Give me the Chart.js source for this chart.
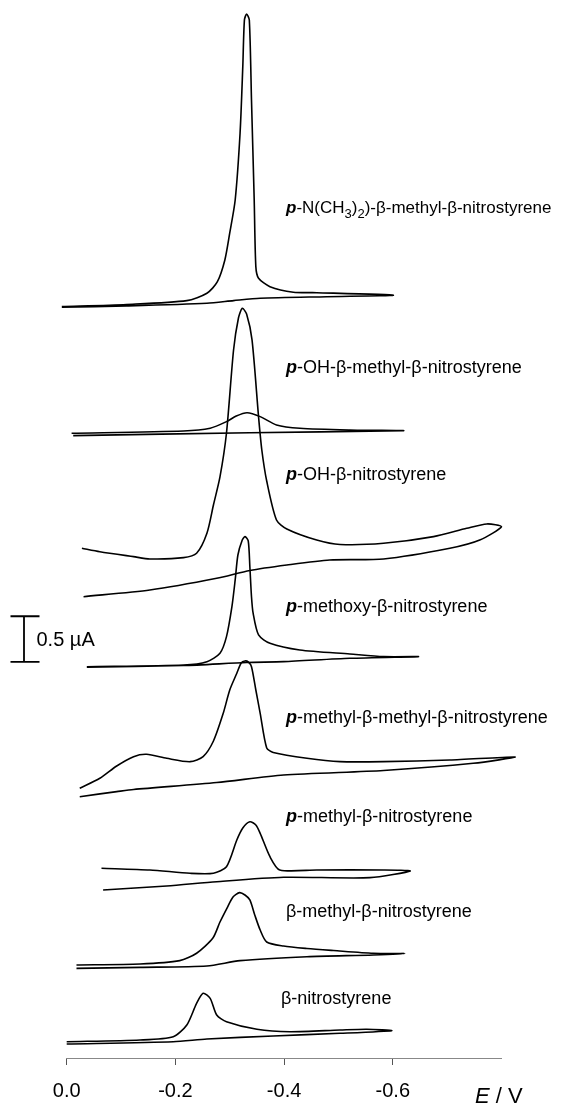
<!DOCTYPE html>
<html><head><meta charset="utf-8">
<script src="https://cdn.jsdelivr.net/npm/chart.js@4/dist/chart.umd.min.js"></script>
<style>html,body{margin:0;padding:0;background:#fff}canvas{display:block}</style>
</head><body>
<canvas id="c" width="572" height="1105"></canvas>
<script>
// ---- data: potential E (V) and current I (µA, stacked with offsets as in the figure) ----
const names = [
  "p-N(CH_3)_2)-β-methyl-β-nitrostyrene",
  "p-OH-β-methyl-β-nitrostyrene",
  "p-OH-β-nitrostyrene",
  "p-methoxy-β-nitrostyrene",
  "p-methyl-β-methyl-β-nitrostyrene",
  "p-methyl-β-nitrostyrene",
  "β-methyl-β-nitrostyrene",
  "β-nitrostyrene"
];
const E_pNMe2 = [0.009,-0.110,-0.221,-0.258,-0.277,-0.291,-0.300,-0.310,-0.319,-0.324,-0.327,-0.331,-0.336,-0.340,-0.345,-0.348,-0.353,-0.374,-0.417,-0.460,-0.601,-0.478,-0.356,-0.307,-0.258,-0.110,0.009];
const I_pNMe2 = [8.220,8.244,8.286,8.367,8.490,8.731,9.026,9.387,10.120,10.846,11.357,11.422,11.357,10.481,9.387,8.658,8.531,8.439,8.378,8.373,8.345,8.329,8.312,8.286,8.257,8.228,8.213];
const E_pOHMe = [-0.009,-0.215,-0.264,-0.294,-0.312,-0.332,-0.356,-0.386,-0.429,-0.521,-0.619,-0.337,-0.012];
const I_pOHMe = [6.835,6.860,6.890,6.962,7.024,7.060,7.017,6.926,6.890,6.871,6.863,6.841,6.809];
const E_pOH = [-0.028,-0.061,-0.123,-0.153,-0.215,-0.239,-0.258,-0.270,-0.282,-0.294,-0.307,-0.316,-0.323,-0.331,-0.341,-0.353,-0.359,-0.368,-0.386,-0.405,-0.460,-0.503,-0.583,-0.675,-0.736,-0.773,-0.800,-0.760,-0.705,-0.583,-0.484,-0.405,-0.337,-0.276,-0.153,-0.031];
const I_pOH = [5.577,5.539,5.485,5.460,5.474,5.522,5.741,6.050,6.357,6.838,7.746,8.096,8.202,8.140,7.856,7.016,6.652,6.313,5.886,5.788,5.667,5.618,5.631,5.704,5.795,5.843,5.813,5.667,5.577,5.460,5.449,5.394,5.334,5.248,5.120,5.047];
const E_pOMe = [-0.037,-0.215,-0.258,-0.282,-0.294,-0.304,-0.310,-0.315,-0.323,-0.328,-0.334,-0.337,-0.340,-0.343,-0.353,-0.374,-0.429,-0.521,-0.583,-0.647,-0.521,-0.399,-0.331,-0.215,-0.037];
const I_pOMe = [4.281,4.300,4.336,4.428,4.610,4.938,5.230,5.503,5.667,5.704,5.657,5.375,5.047,4.866,4.628,4.537,4.464,4.420,4.391,4.391,4.373,4.336,4.327,4.294,4.275];
const E_pMeMe = [-0.024,-0.061,-0.092,-0.123,-0.147,-0.184,-0.227,-0.251,-0.270,-0.288,-0.300,-0.313,-0.321,-0.328,-0.334,-0.340,-0.348,-0.356,-0.368,-0.380,-0.442,-0.503,-0.583,-0.705,-0.825,-0.748,-0.583,-0.399,-0.276,-0.123,-0.092,-0.024];
const I_pMeMe = [2.951,3.060,3.195,3.297,3.323,3.279,3.242,3.297,3.468,3.771,4.026,4.209,4.322,4.344,4.333,4.281,4.026,3.771,3.392,3.343,3.279,3.242,3.242,3.260,3.293,3.224,3.146,3.096,3.014,2.938,2.914,2.859];
const E_pMe = [-0.064,-0.153,-0.227,-0.270,-0.294,-0.313,-0.324,-0.337,-0.348,-0.356,-0.374,-0.392,-0.460,-0.583,-0.632,-0.558,-0.399,-0.276,-0.184,-0.067];
const I_pMe = [2.076,2.057,2.021,2.021,2.093,2.385,2.516,2.585,2.549,2.458,2.202,2.057,2.057,2.057,2.046,1.973,1.977,1.929,1.882,1.838];
const E_bMe = [-0.018,-0.135,-0.208,-0.239,-0.269,-0.282,-0.295,-0.306,-0.318,-0.328,-0.337,-0.346,-0.356,-0.368,-0.399,-0.442,-0.491,-0.564,-0.622,-0.564,-0.442,-0.319,-0.258,-0.135,-0.018];
const I_bMe = [1.018,1.028,1.065,1.146,1.313,1.488,1.641,1.762,1.809,1.783,1.729,1.565,1.400,1.269,1.225,1.198,1.176,1.146,1.143,1.127,1.108,1.065,1.007,0.992,0.981];
const E_b = [0.000,-0.135,-0.196,-0.221,-0.239,-0.251,-0.264,-0.276,-0.294,-0.350,-0.411,-0.503,-0.552,-0.598,-0.503,-0.380,-0.258,-0.196,0.000];
const I_b = [0.178,0.197,0.233,0.361,0.598,0.708,0.653,0.470,0.397,0.314,0.288,0.306,0.314,0.299,0.270,0.241,0.208,0.178,0.153];
const tickValues = [0.0,-0.2,-0.4,-0.6];
const scaleBarValue = 0.5;   // µA
const scaleBarBase = 4.333;  // µA

const series = [[E_pNMe2,I_pNMe2],[E_pOHMe,I_pOHMe],[E_pOH,I_pOH],[E_pOMe,I_pOMe],[E_pMeMe,I_pMeMe],[E_pMe,I_pMe],[E_bMe,I_bMe],[E_b,I_b]];

const FONT = '"Liberation Sans", Arial, sans-serif';
const labelPos = [[286,213.3],[286,373.3],[286,480],[286,611.7],[286,723.3],[286,821.7],[286,916.7],[281,1004]];
const labelSize = [17,18,18,18,18,18,18,18];

function drawRich(ctx, x, y, text, size){
  let i = 0;
  if (text.startsWith('p-')) {
    ctx.font = 'italic bold ' + size + 'px ' + FONT;
    ctx.fillText('p', x, y); x += ctx.measureText('p').width; i = 1;
  }
  let buf = '';
  const flush = () => { if (buf) { ctx.font = size + 'px ' + FONT; ctx.fillText(buf, x, y); x += ctx.measureText(buf).width; buf=''; } };
  for (; i < text.length; i++) {
    const ch = text[i];
    if (ch === '_') {
      flush();
      const s = text[++i];
      ctx.font = Math.round(size*0.75) + 'px ' + FONT;
      ctx.fillText(s, x, y + size*0.28); x += ctx.measureText(s).width;
    } else buf += ch;
  }
  flush();
}

const annot = {
  id: 'annot',
  afterDraw(chart){
    const ctx = chart.ctx, ys = chart.scales.y;
    ctx.save();
    ctx.fillStyle = '#000'; ctx.textBaseline = 'alphabetic'; ctx.textAlign = 'left';
    names.forEach((n, k) => drawRich(ctx, labelPos[k][0], labelPos[k][1], n, labelSize[k]));
    // scale bar
    const yb = ys.getPixelForValue(scaleBarBase), yt = ys.getPixelForValue(scaleBarBase + scaleBarValue);
    ctx.strokeStyle = '#000'; ctx.lineWidth = 1.8;
    ctx.beginPath();
    ctx.moveTo(24, yt); ctx.lineTo(24, yb);
    ctx.moveTo(10.5, yt); ctx.lineTo(39.5, yt);
    ctx.moveTo(10.5, yb); ctx.lineTo(39.5, yb);
    ctx.stroke();
    ctx.font = '20px ' + FONT;
    ctx.fillText(scaleBarValue + ' µA', 36.5, (yt+yb)/2 + 7);
    // axis title
    ctx.font = 'italic 22px ' + FONT;
    ctx.fillText('E', 475, 1103);
    const w = ctx.measureText('E').width;
    ctx.font = '22px ' + FONT;
    ctx.fillText(' / V', 475 + w, 1103);
    ctx.restore();
  }
};

new Chart(document.getElementById('c'), {
  type: 'scatter',
  data: {
    datasets: series.map((s, k) => ({
      label: names[k],
      data: s[0].map((e, j) => ({x: e, y: s[1][j]})),
      showLine: true, borderColor: '#000', borderWidth: 1.6,
      pointRadius: 0, tension: 0.25, fill: false, clip: false
    }))
  },
  options: {
    responsive: false, animation: false, devicePixelRatio: 1,
    layout: { padding: { left: 66.7, right: 70.5, top: 0, bottom: 1.5 } },
    plugins: { legend: { display: false }, tooltip: { enabled: false } },
    scales: {
      x: {
        type: 'linear', min: -0.8, max: 0, reverse: true,
        afterBuildTicks: (sc) => { sc.ticks = tickValues.concat([-0.8]).map(v => ({value: v})); },
        afterFit: (sc) => { sc.height = 45.5; },
        ticks: {
          color: '#000', padding: 14.5, maxRotation: 0, autoSkip: false,
          font: { family: FONT, size: 20 },
          callback: (v) => tickValues.some(t => Math.abs(t - v) < 1e-6) ? Number(v).toFixed(1) : ''
        },
        grid: {
          drawOnChartArea: false, drawTicks: true, tickLength: 7, lineWidth: 1,
          color: (c) => (c.tick && c.tick.value < -0.79) ? 'rgba(0,0,0,0)' : '#555'
        },
        border: { display: true, color: '#888', width: 1 }
      },
      y: { display: false, min: 0, max: 11.575 }
    }
  },
  plugins: [annot]
});
</script>
</body></html>
